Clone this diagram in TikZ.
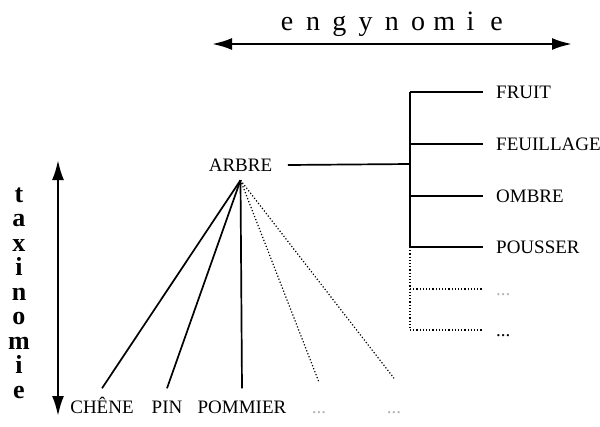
\documentclass[tikz,border=0pt]{standalone}
\usepackage{fontspec}
\setmainfont{Liberation Serif}
\usetikzlibrary{arrows.meta}

\newlength{\du}
\setlength{\du}{1pt}

\tikzset{
  lbl/.style={inner sep=0pt, text height=13\du, text depth=0pt,
    font=\fontsize{19}{20}\selectfont},
  leaf/.style={lbl, anchor=west, inner xsep=13\du},
  kind/.style={lbl, inner ysep=12\du},
  faint/.style={text=black!30},
  branch/.style={line width=1.7\du},
  dots/.style={line width=1.2\du, dotted},
  axis/.style={line width=2.4\du, {Latex[length=20pt,width=12pt]}-{Latex[length=20pt,width=12pt]}}
}

\begin{document}
\begin{tikzpicture}
\pgftransformxscale{1.000000}
\pgftransformyscale{-1.000000}
\useasboundingbox (0\du,0\du) rectangle (600\du,426\du);
% engynomie
\draw[axis] (212\du,44\du)--(572\du,44\du);
\foreach \l [count=\i] in {e,n,g,y,n,o,m,i,e}
  \node[anchor=base, inner sep=0pt, font=\fontsize{28}{29}\selectfont]
    (eng\i) at (287\du+26.2\du*\i-26.2\du,30\du) {\l};
% taxinomie
\draw[axis] (58\du,160\du)--(58\du,416\du);
\foreach \l [count=\i] in {t,a,x,i,n,o,m,i,e}
  \node[anchor=base, inner sep=0pt, font=\fontsize{26}{27}\selectfont\bfseries]
    (tax\i) at (19\du,202\du+24.5\du*\i-24.5\du) {\l};
% ARBRE
\node[lbl, inner xsep=15.5\du, inner ysep=8.5\du] (arbre) at (240.5\du,165\du) {ARBRE};
\coordinate (jct) at (410\du,164\du);
\coordinate (top) at (410\du,92\du);
\coordinate (mid) at (410\du,247\du);
\coordinate (bot) at (410\du,330\du);
\draw[branch] (arbre.east)--(jct);
\draw[branch] (top)--(mid);
\draw[dots] (mid)--(bot);
% right side
\node[leaf] (fruit) at (483\du,92\du){FRUIT};
\node[leaf] (feuil) at (483\du,144\du){FEUILLAGE};
\node[leaf] (ombre) at (483\du,196\du){OMBRE};
\node[leaf] (pouss) at (483\du,247\du){POUSSER};
\node[leaf, faint] (etc1) at (483\du,289\du){...};
\node[leaf] (etc2) at (483\du,330\du){...};
\draw[branch] (top)--(fruit.west);
\draw[branch] (410\du,144\du)--(feuil.west);
\draw[branch] (410\du,196\du)--(ombre.west);
\draw[branch] (mid)--(pouss.west);
\draw[dots] (410\du,289\du)--(etc1.west);
\draw[dots] (bot)--(etc2.west);
% bottom
\node[kind] (chene) at (102\du,407\du){CHÊNE};
\node[kind] (pin) at (167\du,407\du){PIN};
\node[kind] (pommier) at (242\du,407\du){POMMIER};
\node[kind, faint, inner ysep=18\du] (etc3) at (319\du,407\du){...};
\node[kind, faint, inner ysep=22\du] (etc4) at (394\du,407\du){...};
\draw[branch] (arbre.south)--(chene.north);
\draw[branch] (arbre.south)--(pin.north);
\draw[branch] (arbre.south)--(pommier.north);
\draw[dots] (arbre.south)--(etc3.north);
\draw[dots] (arbre.south)--(etc4.north);
\end{tikzpicture}
\end{document}
